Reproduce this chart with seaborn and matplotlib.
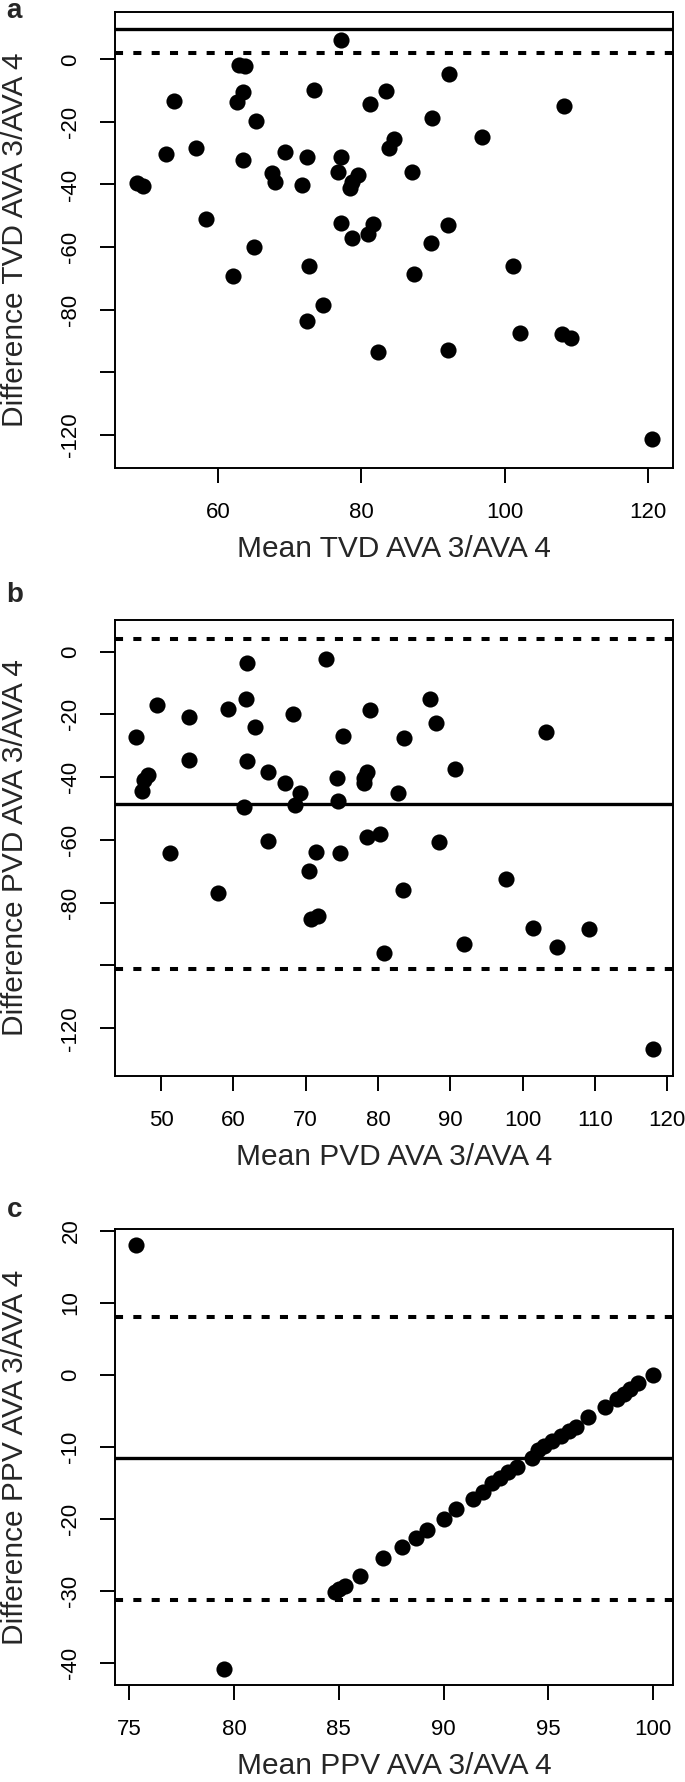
import numpy as np
import pandas as pd
import matplotlib.pyplot as plt
import seaborn as sns

# ---- panel a: TVD ----
tvd_mean = [77.1, 63.0, 63.8, 92.3, 63.5, 73.4, 83.4, 53.8, 62.6, 81.2, 108.3, 65.3,
            89.8, 96.8, 84.5, 83.9, 57.0, 52.7, 69.3, 72.4, 77.2, 63.5, 67.6, 68.0,
            76.7, 79.6, 78.7, 78.4, 87.1, 71.7, 48.7, 49.6, 58.3, 77.2, 81.6, 92.1,
            81.0, 78.7, 89.7, 65.0, 72.7, 101.2, 62.1, 87.4, 74.6, 72.4, 82.4, 92.1,
            102.2, 108.0, 109.2, 120.5]
tvd_diff = [6.2, -1.8, -2.1, -4.8, -10.3, -9.8, -10.0, -13.2, -13.7, -14.4, -14.9, -19.6,
            -18.9, -24.9, -25.6, -28.4, -28.4, -30.4, -29.7, -31.1, -31.3, -32.2, -36.4, -39.1,
            -35.9, -37.0, -39.1, -41.0, -36.1, -40.2, -39.6, -40.4, -50.9, -52.3, -52.6, -53.1,
            -55.8, -57.2, -58.7, -60.0, -66.0, -66.1, -69.2, -68.5, -78.5, -83.6, -93.4, -92.9,
            -87.4, -87.8, -88.9, -121.2]
tvd_solid = 9.8
tvd_dotted = [2.1]
tvd_xticks = [60, 80, 100, 120]
tvd_yticks = [0, -20, -40, -60, -80, -100, -120]
tvd_ylabels = ['0', '-20', '-40', '-60', '-80', '', '-120']

# ---- panel b: PVD ----
pvd_mean = [72.8, 61.9, 61.8, 87.2, 49.4, 59.2, 78.9, 68.3, 53.9, 88.0, 63.0, 103.2,
            46.6, 75.1, 83.6, 53.9, 61.9, 90.6, 64.8, 48.2, 47.6, 78.5, 78.0, 78.1,
            74.4, 67.1, 47.4, 69.2, 82.7, 74.5, 68.5, 61.5, 80.3, 78.5, 64.8, 88.4,
            51.3, 71.4, 74.8, 70.5, 57.9, 83.4, 97.7, 70.8, 71.7, 101.5, 109.2, 80.9,
            91.9, 104.7, 118.0]
pvd_diff = [-2.3, -3.7, -15.2, -15.1, -17.0, -18.4, -18.6, -19.9, -20.7, -22.6, -23.9, -25.5,
            -27.3, -26.9, -27.6, -34.5, -34.7, -37.5, -38.5, -39.3, -40.9, -38.5, -40.3, -41.9,
            -40.4, -41.9, -44.3, -44.9, -44.9, -47.5, -48.8, -49.6, -58.1, -59.1, -60.3, -60.7,
            -64.2, -63.7, -64.3, -70.0, -76.8, -76.1, -72.5, -85.2, -84.2, -88.2, -88.3, -95.9,
            -93.3, -94.2, -126.6]
pvd_solid = -48.4
pvd_dotted = [4.0, -101.2]
pvd_xticks = [50, 60, 70, 80, 90, 100, 110, 120]
pvd_yticks = [0, -20, -40, -60, -80, -100, -120]
pvd_ylabels = ['0', '-20', '-40', '-60', '-80', '', '-120']

# ---- panel c: PPV ----
ppv_mean = [75.35, 79.53, 100.0, 99.3, 98.9, 98.6, 98.3, 97.7, 96.9, 96.3, 96.0, 95.6,
            95.2, 94.8, 94.5, 94.2, 93.5, 93.1, 92.7, 92.3, 91.9, 91.4, 90.6, 90.0,
            89.2, 88.7, 88.0, 87.1, 86.0, 85.3, 85.0, 84.8]
ppv_diff = [18.1, -40.8, 0.0, -1.1, -1.9, -2.6, -3.3, -4.4, -5.9, -7.2, -7.8, -8.5,
            -9.2, -9.9, -10.5, -11.5, -12.8, -13.5, -14.3, -15.0, -16.3, -17.2, -18.7, -20.0,
            -21.5, -22.6, -23.9, -25.5, -28.0, -29.3, -29.8, -30.2]
ppv_solid = -11.6
ppv_dotted = [8.0, -31.3]
ppv_xticks = [75, 80, 85, 90, 95, 100]
ppv_yticks = [20, 10, 0, -10, -20, -30, -40]
ppv_ylabels = ['20', '10', '0', '-10', '-20', '-30', '-40']

sns.set_style('white')
plt.rcParams['font.family'] = ['Liberation Sans', 'DejaVu Sans']

fig = plt.figure(figsize=(6.85, 17.82), dpi=100)


def panel(rect, x, y, solid, dotted, xlim, ylim, xticks, yticks, ylabels, xlabel, ylabel):
    ax = fig.add_axes(rect)
    df = pd.DataFrame({'x': x, 'y': y})
    ax.axhline(solid, color='black', lw=2.4, zorder=1)
    for d in dotted:
        ax.axhline(d, color='black', lw=2.9, linestyle=(0, (2.0, 2.55)), zorder=1)
    sns.scatterplot(data=df, x='x', y='y', ax=ax, color='black', s=135,
                    linewidth=0, zorder=3, legend=False)
    ax.set_xlim(*xlim)
    ax.set_ylim(*ylim)
    ax.set_xticks(xticks)
    ax.set_xticklabels([str(t) for t in xticks])
    ax.set_yticks(yticks)
    ax.set_yticklabels(ylabels, rotation=90, va='center')
    ax.tick_params(direction='out', length=10.5, width=1.4, pad=14,
                   labelsize=16, colors='black', bottom=True, left=True)
    for s in ax.spines.values():
        s.set_visible(True)
        s.set_color('black')
        s.set_linewidth(1.4)
    ax.set_xlabel(xlabel, fontsize=21.5)
    ax.set_ylabel(ylabel, fontsize=21.5)
    ax.xaxis.set_label_coords(0.5, -0.146)
    ax.yaxis.set_label_coords(-0.155, 0.5)
    return ax


left, width = 0.1686, 0.8139
panel([left, 0.7372, width, 0.2562], tvd_mean, tvd_diff, tvd_solid, tvd_dotted,
      (45.7, 123.5), (-130.7, 15.2), tvd_xticks, tvd_yticks, tvd_ylabels,
      'Mean TVD AVA 3/AVA 4', 'Difference TVD AVA 3/AVA 4')
panel([left, 0.3962, width, 0.2559], pvd_mean, pvd_diff, pvd_solid, pvd_dotted,
      (43.7, 120.8), (-135.2, 10.1), pvd_xticks, pvd_yticks, pvd_ylabels,
      'Mean PVD AVA 3/AVA 4', 'Difference PVD AVA 3/AVA 4')
panel([left, 0.0544, width, 0.2559], ppv_mean, ppv_diff, ppv_solid, ppv_dotted,
      (74.35, 100.95), (-43.1, 20.26), ppv_xticks, ppv_yticks, ppv_ylabels,
      'Mean PPV AVA 3/AVA 4', 'Difference PPV AVA 3/AVA 4')

# panel letters
for letter, base in [('a', 18.3), ('b', 601.7), ('c', 1217.3)]:
    fig.text(0.0095, 1 - base / 1782, letter, fontsize=20, fontweight='bold',
             va='baseline', ha='left')

fig.savefig('out.png', dpi=100)
